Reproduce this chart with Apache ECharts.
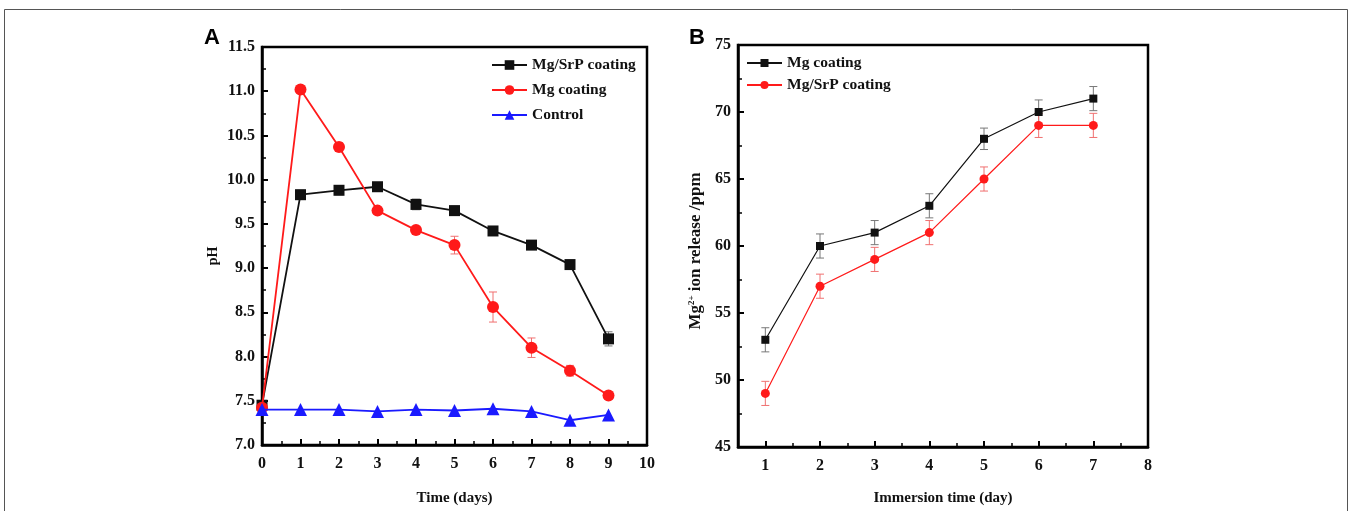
<!DOCTYPE html>
<html>
<head>
<meta charset="utf-8">
<script src="https://cdn.jsdelivr.net/npm/echarts@6/dist/echarts.min.js"></script>
<style>
html,body{margin:0;padding:0;background:#fff;}
#main{width:1350px;height:511px;}
</style>
</head>
<body>
<div id="main"></div>
<script>
// panel A: pH vs time
var daysA = [0, 1, 2, 3, 4, 5, 6, 7, 8, 9];
var phSrP = [7.45, 9.83, 9.88, 9.92, 9.72, 9.65, 9.42, 9.26, 9.04, 8.20];
var phSrPErr = [0, 0.05, 0.05, 0.04, 0.06, 0.05, 0.04, 0.04, 0.04, 0.08];
var phMg = [7.42, 11.02, 10.37, 9.65, 9.43, 9.26, 8.56, 8.10, 7.84, 7.56];
var phMgErr = [0, 0.03, 0.05, 0.03, 0.04, 0.10, 0.17, 0.11, 0.06, 0.03];
var phCtrl = [7.40, 7.40, 7.40, 7.38, 7.40, 7.39, 7.41, 7.38, 7.28, 7.34];

// panel B: Mg2+ release vs immersion time
var daysB = [1, 2, 3, 4, 5, 6, 7];
var relMg = [53, 60, 61, 63, 68, 70, 71];
var relMgErr = [0.9, 0.9, 0.9, 0.9, 0.8, 0.9, 0.9];
var relSrP = [49, 57, 59, 61, 65, 69, 69];
var relSrPErr = [0.9, 0.9, 0.9, 0.9, 0.9, 0.9, 0.9];
var ticksB = [1, 2, 3, 4, 5, 6, 7, 8];
var minorTicksB = [1.5, 2.5, 3.5, 4.5, 5.5, 6.5, 7.5];

var serif = 'Liberation Serif';
var myChart = echarts.init(document.getElementById('main'));

function pairs(xs, ys){
    return xs.map(function(x, i){ return [x, ys[i]]; });
}
function errData(xs, ys, es){
    var out = [];
    xs.forEach(function(x, i){
        if (es[i] > 0) out.push([x, ys[i] - es[i], ys[i] + es[i]]);
    });
    return out;
}
function errSeries(xi, yi, data, color){
    return {
        type: 'custom', xAxisIndex: xi, yAxisIndex: yi, z: 1,
        data: data,
        encode: {x: 0, y: [1, 2]},
        renderItem: function(params, api){
            var lo = api.coord([api.value(0), api.value(1)]);
            var hi = api.coord([api.value(0), api.value(2)]);
            var w = 4;
            var st = {stroke: color, lineWidth: 1};
            return {type: 'group', children: [
                {type: 'line', shape: {x1: lo[0], y1: lo[1], x2: hi[0], y2: hi[1]}, style: st},
                {type: 'line', shape: {x1: lo[0] - w, y1: lo[1], x2: lo[0] + w, y2: lo[1]}, style: st},
                {type: 'line', shape: {x1: hi[0] - w, y1: hi[1], x2: hi[0] + w, y2: hi[1]}, style: st}
            ]};
        }
    };
}

var axisLab = {color: '#111', fontFamily: serif, fontWeight: 'bold', fontSize: 16, margin: 11};
var axLine = {show: true, lineStyle: {color: '#000', width: 2.5}};
var majorTick = {show: true, inside: true, length: 6, lineStyle: {color: '#000', width: 2}};
var minorTick = {show: true, splitNumber: 2, length: 4, lineStyle: {color: '#000', width: 1.5}};
var nameStyle = {color: '#111', fontFamily: serif, fontWeight: 'bold', fontSize: 15};

var option = {
    animation: false,
    backgroundColor: '#fff',
    graphic: [
        {type: 'rect', shape: {x: 4.5, y: 9.5, width: 1343, height: 520}, style: {fill: 'none', stroke: '#555', lineWidth: 1}},
        {type: 'text', left: 204, top: 27, style: {text: 'A', fontFamily: 'Liberation Sans', fontWeight: 'bold', fontSize: 22, fill: '#000'}},
        {type: 'text', left: 689, top: 27, style: {text: 'B', fontFamily: 'Liberation Sans', fontWeight: 'bold', fontSize: 22, fill: '#000'}}
    ],
    grid: [
        {left: 262, top: 47, width: 385, height: 398, show: true, borderColor: '#000', borderWidth: 2.5},
        {left: 738, top: 45, width: 410, height: 402, show: true, borderColor: '#000', borderWidth: 2.5}
    ],
    legend: [
        {
            orient: 'vertical', left: 486, top: 52, itemWidth: 35, itemHeight: 12, itemGap: 9,
            textStyle: {color: '#111', fontFamily: serif, fontWeight: 'bold', fontSize: 15.5},
            data: ['Mg/SrP coating ', 'Mg coating ', 'Control']
        },
        {
            orient: 'vertical', left: 741, top: 50, itemWidth: 35, itemHeight: 10, itemGap: 6,
            textStyle: {color: '#111', fontFamily: serif, fontWeight: 'bold', fontSize: 15.5},
            data: ['Mg coating', 'Mg/SrP coating']
        }
    ],
    xAxis: [
        {
            type: 'value', gridIndex: 0, min: 0, max: 10, interval: 1,
            name: 'Time (days)', nameLocation: 'middle', nameGap: 46, nameTextStyle: nameStyle,
            axisLine: axLine, axisTick: majorTick, minorTick: minorTick,
            axisLabel: axisLab, splitLine: {show: false}
        },
        {
            type: 'value', gridIndex: 1, min: 0.5, max: 8, position: 'bottom',
            name: 'Immersion time (day)', nameLocation: 'middle', nameGap: 44, nameTextStyle: nameStyle,
            axisLine: axLine,
            axisTick: {show: true, inside: true, length: 6, lineStyle: {color: '#000', width: 2}, customValues: ticksB},
            axisLabel: {color: '#111', fontFamily: serif, fontWeight: 'bold', fontSize: 16, margin: 11, customValues: ticksB},
            splitLine: {show: false}
        },
        {
            type: 'value', gridIndex: 1, min: 0.5, max: 8, position: 'bottom',
            axisLine: {show: false},
            axisTick: {show: true, inside: true, length: 4, lineStyle: {color: '#000', width: 1.5}, customValues: minorTicksB},
            axisLabel: {show: false}, splitLine: {show: false}
        }
    ],
    yAxis: [
        {
            type: 'value', gridIndex: 0, min: 7, max: 11.5, interval: 0.5,
            name: 'pH', nameLocation: 'middle', nameGap: 42,
            nameTextStyle: {color: '#111', fontFamily: serif, fontWeight: 'bold', fontSize: 14, padding: [0, 20, 0, 0]},
            axisLine: axLine, axisTick: majorTick, minorTick: minorTick,
            axisLabel: {color: '#111', fontFamily: serif, fontWeight: 'bold', fontSize: 16, margin: 7,
                formatter: function(v){ return v.toFixed(1); }},
            splitLine: {show: false}
        },
        {
            type: 'value', gridIndex: 1, min: 45, max: 75, interval: 5,
            name: 'Mg{sup|2+} ion release /ppm', nameLocation: 'middle', nameGap: 34,
            nameTextStyle: {color: '#111', fontFamily: serif, fontWeight: 'bold', fontSize: 17, padding: [0, 10, 0, 0],
                rich: {sup: {fontFamily: serif, fontWeight: 'bold', fontSize: 9, verticalAlign: 'top', color: '#111', padding: [0, 0, 8, 0]}}},
            axisLine: axLine, axisTick: majorTick, minorTick: minorTick,
            axisLabel: {color: '#111', fontFamily: serif, fontWeight: 'bold', fontSize: 16, margin: 7},
            splitLine: {show: false}
        }
    ],
    series: [
        errSeries(0, 0, errData(daysA, phSrP, phSrPErr), '#777'),
        errSeries(0, 0, errData(daysA, phMg, phMgErr), '#f07070'),
        {
            name: 'Mg/SrP coating ', type: 'line', xAxisIndex: 0, yAxisIndex: 0,
            data: pairs(daysA, phSrP), symbol: 'rect', symbolSize: 11,
            lineStyle: {color: '#111', width: 1.8}, itemStyle: {color: '#111'}, z: 3
        },
        {
            name: 'Mg coating ', type: 'line', xAxisIndex: 0, yAxisIndex: 0,
            data: pairs(daysA, phMg), symbol: 'circle', symbolSize: 12,
            lineStyle: {color: '#ff1a1a', width: 1.8}, itemStyle: {color: '#ff1a1a'}, z: 4
        },
        {
            name: 'Control', type: 'line', xAxisIndex: 0, yAxisIndex: 0,
            data: pairs(daysA, phCtrl), symbol: 'triangle', symbolSize: 13,
            lineStyle: {color: '#1a1aff', width: 1.8}, itemStyle: {color: '#1a1aff'}, z: 5
        },
        errSeries(1, 1, errData(daysB, relMg, relMgErr), '#777'),
        errSeries(1, 1, errData(daysB, relSrP, relSrPErr), '#f07070'),
        {
            name: 'Mg coating', type: 'line', xAxisIndex: 1, yAxisIndex: 1,
            data: pairs(daysB, relMg), symbol: 'rect', symbolSize: 8,
            lineStyle: {color: '#111', width: 1.2}, itemStyle: {color: '#111'}, z: 3
        },
        {
            name: 'Mg/SrP coating', type: 'line', xAxisIndex: 1, yAxisIndex: 1,
            data: pairs(daysB, relSrP), symbol: 'circle', symbolSize: 9,
            lineStyle: {color: '#ff1a1a', width: 1.2}, itemStyle: {color: '#ff1a1a'}, z: 4
        }
    ]
};
myChart.setOption(option);
</script>
</body>
</html>
